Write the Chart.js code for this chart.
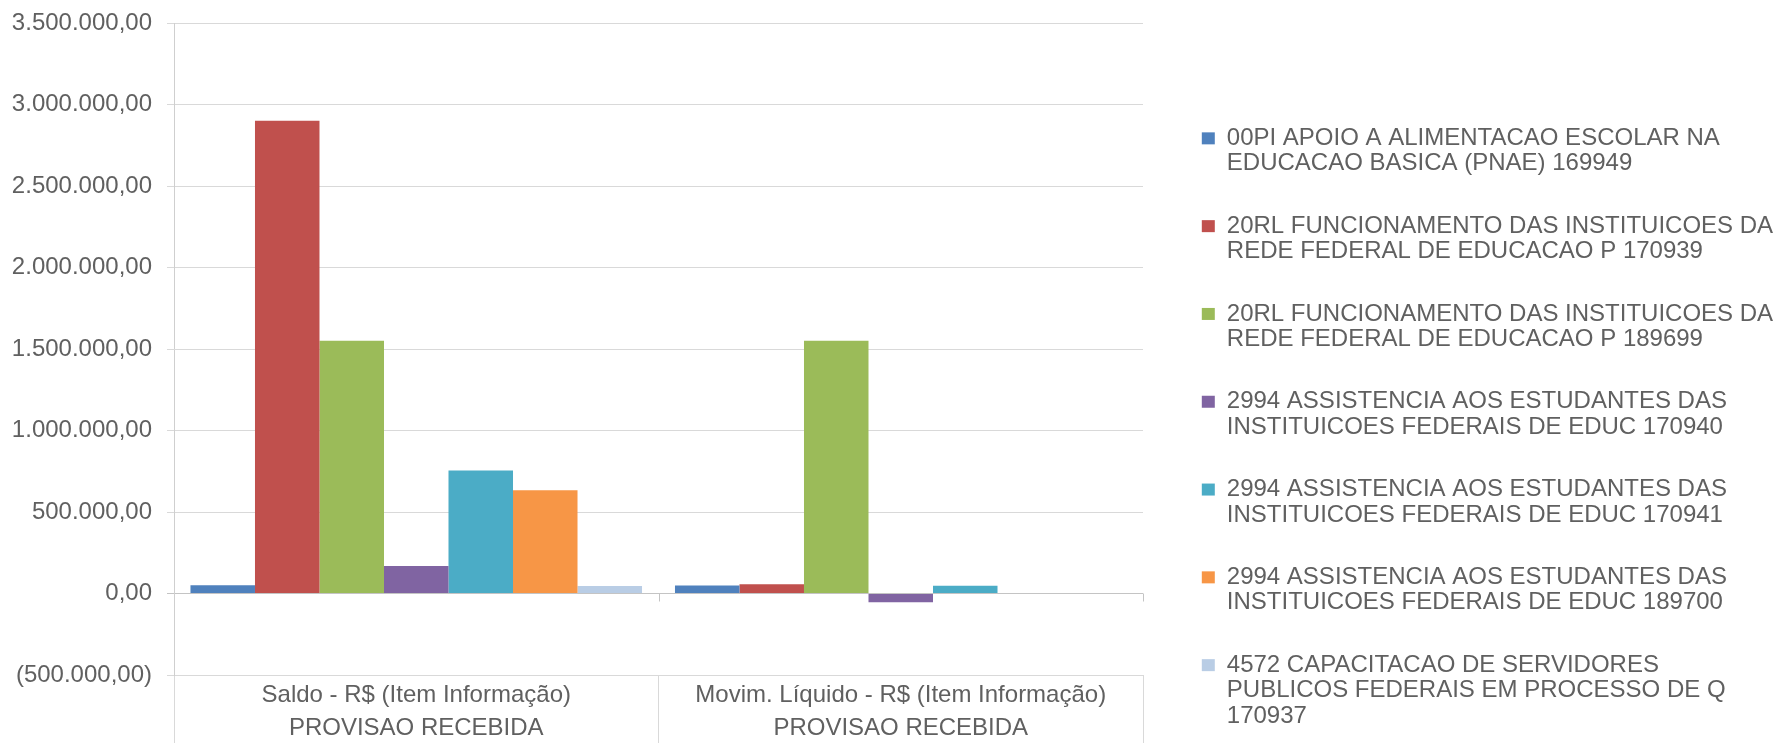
<!DOCTYPE html>
<html>
<head>
<meta charset="utf-8">
<script src="https://cdn.jsdelivr.net/npm/chart.js@4/dist/chart.umd.min.js"></script>
<style>
  html, body { margin: 0; padding: 0; background: #fff; }
  #wrap { width: 1784px; height: 743px; }
</style>
</head>
<body>
<div id="wrap"><canvas id="chart" width="1784" height="743"></canvas></div>
<script>
// categories (two-level labels)
const categories = [
  ["Saldo - R$ (Item Informação)", "PROVISAO RECEBIDA"],
  ["Movim. Líquido - R$ (Item Informação)", "PROVISAO RECEBIDA"],
];

// series names, split the way the legend wraps them
const seriesNames = [
  ["00PI APOIO A ALIMENTACAO ESCOLAR NA", "EDUCACAO BASICA (PNAE) 169949"],
  ["20RL FUNCIONAMENTO DAS INSTITUICOES DA", "REDE FEDERAL DE EDUCACAO P 170939"],
  ["20RL FUNCIONAMENTO DAS INSTITUICOES DA", "REDE FEDERAL DE EDUCACAO P 189699"],
  ["2994 ASSISTENCIA AOS ESTUDANTES DAS", "INSTITUICOES FEDERAIS DE EDUC 170940"],
  ["2994 ASSISTENCIA AOS ESTUDANTES DAS", "INSTITUICOES FEDERAIS DE EDUC 170941"],
  ["2994 ASSISTENCIA AOS ESTUDANTES DAS", "INSTITUICOES FEDERAIS DE EDUC 189700"],
  ["4572 CAPACITACAO DE SERVIDORES", "PUBLICOS FEDERAIS EM PROCESSO DE Q", "170937"],
];

// values per series: [Saldo, Movim. Liquido]
const s00pi169949 = [50000, 49000];
const s20rl170939 = [2900000, 57000];
const s20rl189699 = [1550000, 1550000];
const s2994_170940 = [168000, -53000];
const s2994_170941 = [754000, 47000];
const s2994_189700 = [634000, 0];
const s4572_170937 = [46000, 0];

const seriesValues = [
  s00pi169949, s20rl170939, s20rl189699,
  s2994_170940, s2994_170941, s2994_189700, s4572_170937,
];

const seriesColors = ["#4F81BD", "#C0504D", "#9BBB59", "#8064A2", "#4BACC6", "#F79646", "#B9CDE5"];

// y axis range
const yMin = -500000;
const yMax = 3500000;
const yStep = 500000;

const textColor = "#606060";
const gridColor = "#d9d9d9";
const fontFamily = "'Liberation Sans', Arial, Helvetica, sans-serif";

// 3.500.000,00 / (500.000,00)
function formatBR(v) {
  const parts = Math.abs(v).toFixed(2).split(".");
  const intPart = parts[0].replace(/\B(?=(\d{3})+(?!\d))/g, ".");
  const out = intPart + "," + parts[1];
  return v < 0 ? "(" + out + ")" : out;
}

// legend takes the space to the right of the plot, placed like the Excel one
const legendPlace = {
  id: "legendPlace",
  beforeLayout(chart) {
    const lg = chart.legend;
    if (lg && !lg._fixedFit) {
      const fit = lg.fit;
      lg.fit = function () {
        fit.call(this);
        this.width = 641;
      };
      lg._fixedFit = true;
    }
  },
  afterLayout(chart) {
    const lg = chart.legend;
    if (!lg) return;
    lg.left += 22;
    lg.right += 22;
    lg.top += 45;
    lg.bottom += 45;
  },
};

// small category tick marks hanging under the zero line
const zeroTicks = {
  id: "zeroTicks",
  afterDatasetsDraw(chart) {
    const x = chart.scales.x;
    const y0 = chart.scales.y.getPixelForValue(0);
    const ctx = chart.ctx;
    ctx.save();
    ctx.strokeStyle = "#c4c4c4";
    ctx.lineWidth = 1;
    for (let i = 1; i <= categories.length; i++) {
      const px = Math.round((x.getPixelForTick(i - 1) + (i < categories.length ? x.getPixelForTick(i) : x.right * 2 - x.getPixelForTick(i - 1))) / 2) + 0.5;
      ctx.beginPath();
      ctx.moveTo(px, y0);
      ctx.lineTo(px, y0 + 8);
      ctx.stroke();
    }
    ctx.restore();
  },
};

const datasets = seriesNames.map((name, i) => ({
  label: name,
  data: seriesValues[i],
  backgroundColor: seriesColors[i],
  borderWidth: 0,
  categoryPercentage: 0.932,
  barPercentage: 1,
}));

new Chart(document.getElementById("chart"), {
  type: "bar",
  data: { labels: categories, datasets: datasets },
  plugins: [legendPlace, zeroTicks],
  options: {
    responsive: false,
    animation: false,
    devicePixelRatio: 1,
    layout: { padding: { top: 23, right: 0, bottom: 0, left: 0 } },
    plugins: {
      tooltip: { enabled: false },
      legend: {
        position: "right",
        align: "center",
        labels: {
          color: textColor,
          font: { family: fontFamily, size: 24, lineHeight: 25.5 / 24 },
          boxWidth: 13,
          boxHeight: 12,
          padding: 36.8,
        },
      },
    },
    scales: {
      x: {
        grid: {
          drawOnChartArea: false,
          drawTicks: true,
          tickLength: 68,
          color: gridColor,
          offset: true,
        },
        border: { display: true, color: gridColor },
        ticks: {
          color: textColor,
          font: { family: fontFamily, size: 24, lineHeight: 33 / 24 },
          padding: -64.5,
          maxRotation: 0,
          autoSkip: false,
        },
        afterFit(scale) {
          scale.height = 68;
        },
      },
      y: {
        min: yMin,
        max: yMax,
        grid: {
          color: (ctx) => (ctx.tick && ctx.tick.value === 0 ? "#c4c4c4" : gridColor),
          tickLength: 7,
        },
        border: { display: true, color: "#cfcfcf" },
        ticks: {
          stepSize: yStep,
          color: textColor,
          font: { family: fontFamily, size: 24 },
          padding: 15,
          callback: (v) => formatBR(v),
        },
        afterFit(scale) {
          scale.width = 174;
          scale.paddingTop = 0;
          scale.paddingBottom = 0;
        },
      },
    },
  },
});
</script>
</body>
</html>
